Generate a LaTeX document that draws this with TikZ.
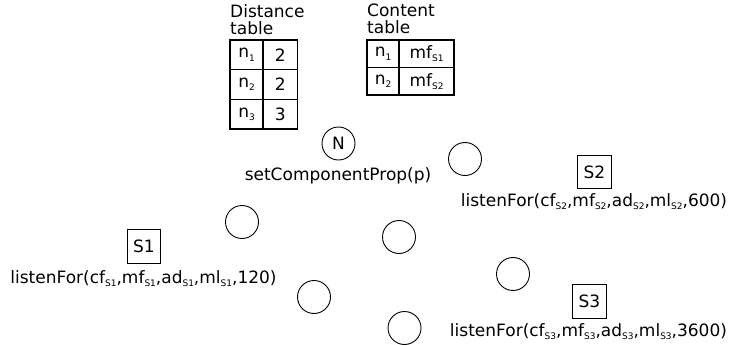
\documentclass[tikz,border=0pt]{standalone}
\usepackage{fontspec}
\setmainfont{DejaVu Sans}
\newcommand{\subtxt}[1]{\raisebox{-0.35ex}{\fontsize{9}{9}\selectfont #1}}

\tikzset{
  peer/.style={circle, draw, line width=0.9pt, minimum size=33pt, inner sep=0pt},
  sink/.style={draw, line width=0.7pt, minimum size=33.5pt, inner sep=0pt},
  cell/.style={draw, line width=1.3pt, inner sep=0pt, outer sep=0pt},
  lbl/.style={anchor=base, inner sep=0pt},
  ttl/.style={anchor=north west, inner sep=0pt, align=left}
}

\begin{document}
\begin{tikzpicture}[x=1pt, y=-1pt, font=\fontsize{17}{17}\selectfont]
    \useasboundingbox (0,0) rectangle (729,345);

    % Distance table
    \node[ttl] (dtitle) at (230,4) {Distance\\table};
    \foreach \v [count=\i] in {2,2,3} {
        \node[cell, minimum width=33pt, minimum height=29.7pt] (dn\i) at (246.5, 25.15+29.7*\i) {n\subtxt{\i}};
        \node[cell, minimum width=34.7pt, minimum height=29.7pt] (dv\i) at (280.35, 25.15+29.7*\i) {\v};
    }

    % Content table
    \node[ttl] (ctitle) at (367,4) {Content\\table};
    \foreach \i in {1,2} {
        \node[cell, minimum width=32pt, minimum height=27.5pt] (cn\i) at (383, 26.25+27.5*\i) {n\subtxt{\i}};
        \node[cell, minimum width=55pt, minimum height=27.5pt] (cv\i) at (426.5, 26.25+27.5*\i) {mf\subtxt{S\i}};
    }

    % Node N
    \node[peer] (n) at (338.5,143.5) {N};
    \node[lbl] (nprop) at (338,180) {setComponentProp(p)};

    % plain peers
    \node[peer] (p1) at (465,159) {};
    \node[peer] (p2) at (242,222) {};
    \node[peer] (p3) at (399,237) {};
    \node[peer] (p4) at (513,274) {};
    \node[peer] (p5) at (314,297) {};
    \node[peer] (p6) at (404.5,328) {};

    % sinks
    \node[sink] (s1) at (144,246.5) {S1};
    \node[lbl] (l1) at (143.5,283) {listenFor(cf\subtxt{S1},mf\subtxt{S1},ad\subtxt{S1},ml\subtxt{S1},120)};

    \node[sink] (s2) at (594.5,172) {S2};
    \node[lbl] (l2) at (594,206) {listenFor(cf\subtxt{S2},mf\subtxt{S2},ad\subtxt{S2},ml\subtxt{S2},600)};

    \node[sink] (s3) at (589.5,301.5) {S3};
    \node[lbl] (l3) at (588.5,336) {listenFor(cf\subtxt{S3},mf\subtxt{S3},ad\subtxt{S3},ml\subtxt{S3},3600)};
\end{tikzpicture}
\end{document}
